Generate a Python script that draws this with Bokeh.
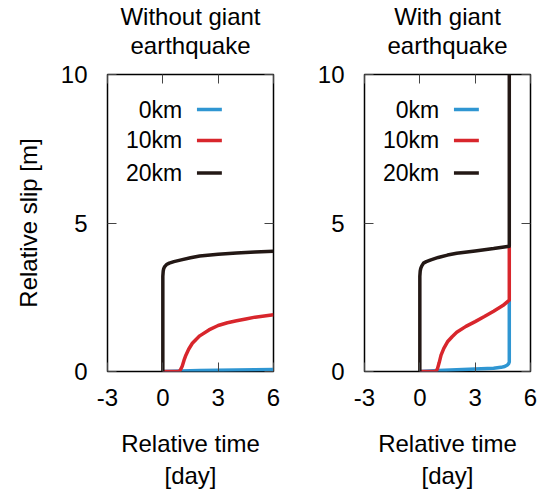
from bokeh.plotting import figure
from bokeh.models import (Range1d, LinearAxis, FixedTicker, ColumnDataSource,
                          CustomJSTickFormatter)
from bokeh.layouts import row
from bokeh.embed import file_html
from bokeh.resources import INLINE
from bokeh.core.properties import value

# ---------------- data ----------------
SERIES = ["0km", "10km", "20km"]
COLORS = ["#2f96d2", "#d8262c", "#231815"]

PANEL_TITLES = ["Without giant\nearthquake", "With giant\nearthquake"]
X_TICKS = [-3, 0, 3, 6]
X_TICK_LABELS = {-3: "-3", 0: "0", 3: "3", 6: "6"}
Y_TICKS = [0, 5, 10]

# Without giant earthquake
L_T_0 = [0, 1, 2, 3, 4, 5, 6]
L_S_0 = [0, 0.02, 0.03, 0.04, 0.05, 0.06, 0.07]
L_T_10 = [0, 0.85, 0.95, 1.05, 1.15, 1.25, 1.4, 1.6, 1.8, 2.0, 2.5, 3, 3.5, 4, 4.5, 5, 5.5, 6]
L_S_10 = [0, 0, 0.05, 0.18, 0.38, 0.55, 0.75, 0.95, 1.08, 1.2, 1.4, 1.55, 1.64, 1.71, 1.77, 1.83, 1.87, 1.91]
L_T_20 = [0, 0, 0.02, 0.05, 0.1, 0.2, 0.35, 0.6, 1, 1.5, 2, 3, 4, 5, 6]
L_S_20 = [0, 3.2, 3.38, 3.47, 3.53, 3.6, 3.65, 3.7, 3.76, 3.83, 3.89, 3.95, 3.99, 4.02, 4.05]

# With giant earthquake
R_T_0 = [0, 1, 2, 3, 4, 4.4, 4.6, 4.75, 4.82, 4.85, 4.85]
R_S_0 = [0, 0.03, 0.06, 0.08, 0.11, 0.14, 0.17, 0.22, 0.27, 0.32, 2.4]
R_T_10 = [0, 0.85, 0.95, 1.05, 1.15, 1.3, 1.5, 1.75, 2.0, 2.5, 3, 3.5, 4, 4.5, 4.85, 4.85]
R_S_10 = [0, 0, 0.08, 0.3, 0.55, 0.78, 1.0, 1.17, 1.32, 1.52, 1.68, 1.85, 2.03, 2.22, 2.4, 4.22]
R_T_20 = [0, 0, 0.02, 0.05, 0.1, 0.2, 0.35, 0.6, 1, 1.5, 2, 3, 4, 4.85, 4.85]
R_S_20 = [0, 3.2, 3.38, 3.47, 3.55, 3.65, 3.7, 3.76, 3.84, 3.92, 3.98, 4.06, 4.14, 4.22, 10]

PANELS = [
    [(L_T_0, L_S_0), (L_T_10, L_S_10), (L_T_20, L_S_20)],
    [(R_T_0, R_S_0), (R_T_10, R_S_10), (R_T_20, R_S_20)],
]

# legend layout (data units inside the frame)
LEG_TEXT_X = 1.05
LEG_X0, LEG_X1 = 1.85, 3.2
LEG_Y = [8.82, 7.78, 6.68]

FONT = "Liberation Sans"


def make_panel(idx):
    first = idx == 0
    bl = 107 if first else 72
    br = 19 if first else 12
    bt, bb = 74, 120
    p = figure(
        width=bl + 166 + br, height=bt + 297 + bb,
        x_range=Range1d(-3, 6), y_range=Range1d(0, 10),
        output_backend="svg", toolbar_location=None,
        min_border_left=bl, min_border_right=br,
        min_border_top=bt, min_border_bottom=bb,
        x_axis_location=None, y_axis_location=None,
    )
    p.xgrid.visible = False
    p.ygrid.visible = False
    p.outline_line_color = "black"
    p.outline_line_width = 1.5
    p.background_fill_color = "white"
    p.border_fill_color = "white"

    def style(ax, labels=True):
        ax.axis_line_color = None
        ax.major_tick_in = 9
        ax.major_tick_out = 0
        ax.minor_tick_line_color = None
        ax.major_tick_line_color = "#444444"
        ax.major_tick_line_width = 1
        ax.major_label_text_font = FONT
        ax.major_label_text_color = "black"
        ax.axis_label_text_font = FONT
        ax.axis_label_text_font_style = "normal"
        ax.axis_label_text_color = "black"
        ax.axis_label_text_font_size = "24px"
        if labels:
            ax.major_label_text_font_size = "24px"
            ax.major_label_standoff = 18
        else:
            ax.formatter = CustomJSTickFormatter(code="return ''")
            ax.major_label_text_font_size = "0px"
            ax.major_label_standoff = 0

    xb = LinearAxis(ticker=FixedTicker(ticks=X_TICKS), axis_label="Relative time\n[day]")
    style(xb)
    xb.major_label_standoff = 17
    xb.major_label_overrides = X_TICK_LABELS
    xb.axis_label_standoff = 21
    p.add_layout(xb, "below")

    # top axis: inner ticks only, panel title as its label
    xt = LinearAxis(ticker=FixedTicker(ticks=X_TICKS), axis_label=PANEL_TITLES[idx])
    style(xt, labels=False)
    xt.axis_label_text_line_height = 1.05
    xt.axis_label_standoff = 16
    p.add_layout(xt, "above")

    yl = LinearAxis(ticker=FixedTicker(ticks=Y_TICKS),
                    axis_label="Relative slip [m]" if first else None)
    style(yl)
    yl.major_label_standoff = 20
    yl.axis_label_standoff = 16
    p.add_layout(yl, "left")

    yr = LinearAxis(ticker=FixedTicker(ticks=Y_TICKS))
    style(yr, labels=False)
    p.add_layout(yr, "right")

    for (t, s), c in zip(PANELS[idx], COLORS):
        p.line(t, s, line_color=c, line_width=3.5, line_join="round")

    src = ColumnDataSource(dict(x=[LEG_TEXT_X] * 3, x0=[LEG_X0] * 3, x1=[LEG_X1] * 3,
                                y=LEG_Y, label=SERIES, color=COLORS))
    p.text(x="x", y="y", text="label", source=src, text_align="right",
           text_baseline="middle", text_font=value(FONT), text_font_size="23px",
           text_color="black")
    p.segment(x0="x0", x1="x1", y0="y", y1="y", color="color", source=src,
              line_width=3.5)
    return p


layout = row(make_panel(0), make_panel(1))
open("out.html", "w").write(file_html(layout, INLINE))
